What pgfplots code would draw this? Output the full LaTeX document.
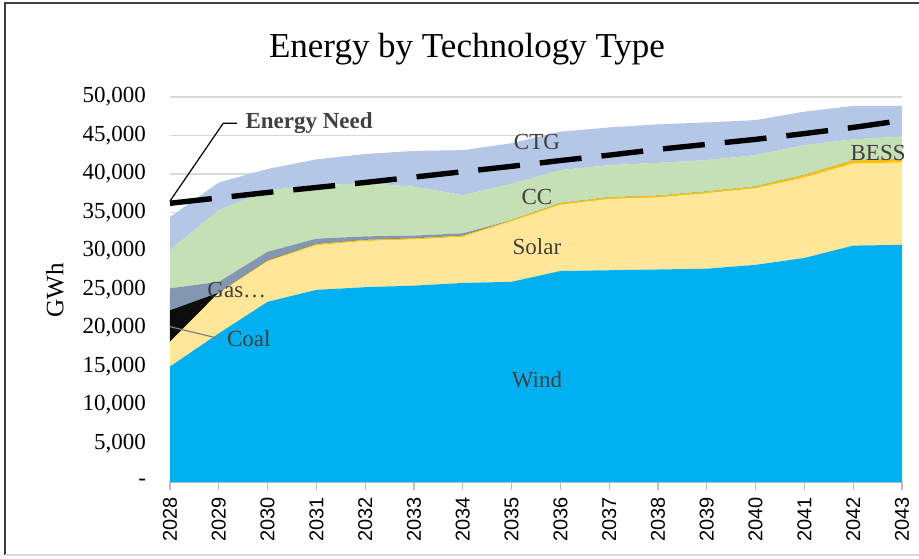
\documentclass[border=0pt]{standalone}
\usepackage{pgfplots}
\pgfplotsset{compat=1.18}
\usepackage{pgfplotstable}
\usepackage{fontspec}
\setmainfont{Liberation Serif}
\newfontfamily\arialfont{Liberation Sans}

\definecolor{windc}{HTML}{00B0F0}
\definecolor{solarc}{HTML}{FFE699}
\definecolor{bessc}{HTML}{FFC000}
\definecolor{coalc}{HTML}{0D0D0D}
\definecolor{gasc}{HTML}{8497B0}
\definecolor{ccc}{HTML}{C5E0B4}
\definecolor{ctgc}{HTML}{B4C7E7}
\definecolor{lblc}{HTML}{404040}

% GWh by technology, stacked bottom to top; idx 0 = 2028; need = energy need line
\pgfplotstableread{
idx year wind  solar bess coal gas  cc   ctg  need
0  2028 15000 3200  0    4100 2850 4980 4290 36200
1  2029 19300 5250  50   0    1400 9300 3600 36900
2  2030 23400 5250  100  0    1150 8000 2750 37600
3  2031 24950 5800  150  0    700  6950 3350 38250
4  2032 25300 6000  150  0    450  6900 3800 38900
5  2033 25500 6000  150  0    350  6350 4650 39600
6  2034 25850 6000  150  0    300  4950 5850 40300
7  2035 26000 7850  150  0    0    4700 5300 41000
8  2036 27400 8600  200  0    0    4300 5000 41750
9  2037 27500 9250  200  0    0    4200 4900 42450
10 2038 27600 9350  200  0    0    4300 5000 43200
11 2039 27700 9800  200  0    0    4100 4900 43850
12 2040 28200 9950  200  0    0    4100 4550 44500
13 2041 29100 10450 300  0    0    3900 4350 45250
14 2042 30700 10650 400  0    0    2750 4350 46050
15 2043 30800 10700 400  0    0    2950 4000 46950
}\energy

\pgfplotsset{
  common/.style={width=366pt, height=192.5pt, scale only axis,
    xmin=0, xmax=15, ymin=0, ymax=50000, clip=false, scaled y ticks=false},
}

\begin{document}
\begin{tikzpicture}
\useasboundingbox (-85pt,-38pt) rectangle (374.5pt,241pt);
\begin{axis}[
  common,
  stack plots=y,
  axis x line*=bottom, axis y line*=left,
  y axis line style={draw=none}, ytick style={draw=none},
  x axis line style={draw=black!25, line width=0.6pt},
  xtick style={draw=black!25, line width=0.6pt},
  tick align=outside, major tick length=4pt,
  xtick={0,...,15},
  xticklabels={2028,2029,2030,2031,2032,2033,2034,2035,2036,2037,2038,2039,2040,2041,2042,2043},
  xticklabel style={font=\arialfont\fontsize{10}{12}\selectfont, rotate=90, anchor=east},
  ytick={0,5000,...,50000},
  yticklabels={{-},{5,000},{10,000},{15,000},{20,000},{25,000},{30,000},{35,000},{40,000},{45,000},{50,000}},
  yticklabel style={font=\fontsize{11.5}{13}\selectfont, xshift=-4.5pt},
  ymajorgrids, grid style={draw=black!15, line width=0.6pt},
]
\addplot[fill=windc, draw=none] table[x=idx, y=wind] {\energy} \closedcycle;
\addplot[fill=solarc, draw=none] table[x=idx, y=solar] {\energy} \closedcycle;
\addplot[fill=bessc, draw=none] table[x=idx, y=bess] {\energy} \closedcycle;
\addplot[fill=coalc, draw=none] table[x=idx, y=coal] {\energy} \closedcycle;
\addplot[fill=gasc, draw=none] table[x=idx, y=gas] {\energy} \closedcycle;
\addplot[fill=ccc, draw=none] table[x=idx, y=cc] {\energy} \closedcycle;
\addplot[fill=ctgc, draw=none] table[x=idx, y=ctg] {\energy} \closedcycle;
\end{axis}
\begin{axis}[common, hide axis]
\addplot[black, line width=2.7pt, dash pattern=on 21pt off 10pt] table[x=idx, y=need] {\energy};
\begin{scope}[every node/.style={font=\fontsize{11.5}{13}\selectfont, text=lblc}]
\node at (axis cs:7.52,13250) {Wind};
\node at (axis cs:7.52,30560) {Solar};
\node at (axis cs:7.52,37050) {CC};
\node at (axis cs:7.52,44200) {CTG};
\node at (axis cs:14.51,42690) {BESS};
\node at (axis cs:1.37,24935) {Gas\dots};
\node[anchor=west, inner sep=0pt] at (axis cs:1.16,18570) {Coal};
\node[anchor=west, inner sep=0pt, font=\bfseries\fontsize{11.5}{13}\selectfont] at (axis cs:1.54,46580) {Energy Need};
\end{scope}
\draw[gray, line width=0.6pt] (axis cs:0,20170) -- (axis cs:0.99,18660);
\draw[black, line width=0.6pt] (axis cs:0,36490) -- (axis cs:1.09,46580) -- (axis cs:1.37,46580);
\end{axis}
\node at (148.5pt,216.5pt) {\fontsize{17.5}{21}\selectfont Energy by Technology Type};
\node[rotate=90] at (-57.5pt,96pt) {\fontsize{12.5}{14}\selectfont GWh};
\draw[black!75, line width=1.1pt] (-82.5pt,-36.5pt) -- (-82.5pt,239.5pt) -- (374.5pt,239.5pt);
\draw[black!15, line width=1pt] (-82.5pt,-36.5pt) -- (374.5pt,-36.5pt);
\end{tikzpicture}
\end{document}
